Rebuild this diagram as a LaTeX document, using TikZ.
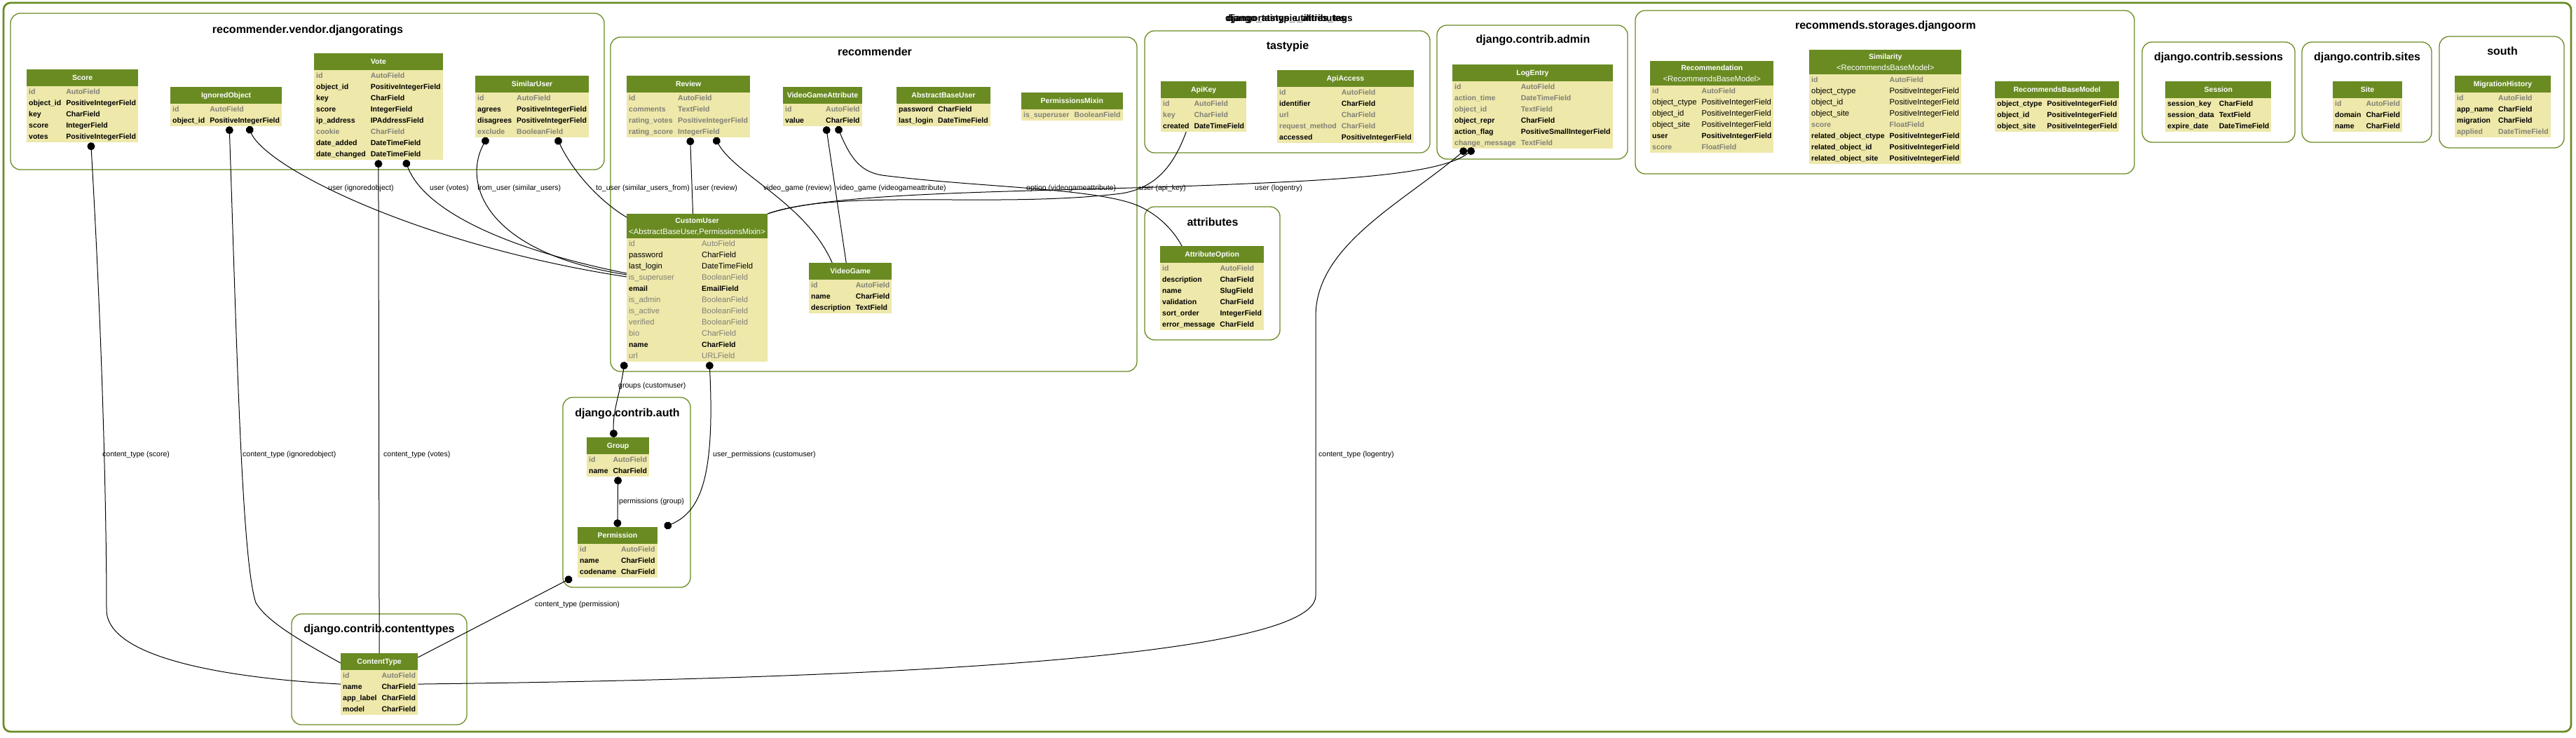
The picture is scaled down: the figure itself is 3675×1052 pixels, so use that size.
\documentclass[tikz,border=0pt]{standalone}
\usepackage{fontspec}
\setmainfont{Liberation Sans}
\usepackage{array}
\usepackage{tikz}
\usetikzlibrary{arrows.meta, fit, shapes.multipart}
\definecolor{cHead}{HTML}{698B22}
\definecolor{cBody}{HTML}{EEE8AA}
\definecolor{cFrame}{HTML}{698B22}
\definecolor{cMuted}{RGB}{128,128,118}
\newcommand{\fieldreg}{\mdseries\fontsize{11.3}{16}\selectfont}
\newcommand{\hd}[1]{\textcolor{white}{\rule[-7.5pt]{0pt}{23pt}\hspace{4pt}#1\hspace{4pt}}}
\newcommand{\hdtwo}[2]{\textcolor{white}{\begin{tabular}{@{\hspace{3pt}}c@{\hspace{3pt}}}\rule{0pt}{13pt}#1\\{\fieldreg #2}\rule[-5pt]{0pt}{0pt}\end{tabular}}}
\newcommand{\rowbold}[2]{#1 & #2\\}
\newcommand{\rowmuted}[2]{\textcolor{cMuted}{#1} & \textcolor{cMuted}{#2}\\}
\newcommand{\rowplain}[2]{{\fieldreg #1} & {\fieldreg #2}\\}
\newcommand{\rowplainmuted}[2]{{\fieldreg\color{cMuted}#1} & {\fieldreg\color{cMuted}#2}\\}
\newenvironment{fieldlist}{\begin{tabular}{@{\hspace{3pt}}l@{\hspace{7pt}}l@{\hspace{3pt}}}}{\end{tabular}}
\newenvironment{widefieldlist}[1]{\begin{tabular}{@{\hspace{3pt}}w{l}{#1}@{}l@{\hspace{3pt}}}}{\end{tabular}}
\tikzset{
    model/.style={
        rectangle split, rectangle split parts=2,
        rectangle split part fill={cHead,cBody},
        rectangle split part align={center,left},
        inner xsep=0pt, inner ysep=0pt, anchor=north west,
        font=\fontsize{10.5}{16}\selectfont\bfseries,
    },
    cluster/.style={
        draw=cFrame, line width=1.3pt, rounded corners=14pt, inner sep=0pt
    },
    frame/.style={
        draw=cFrame, line width=2.7pt, rounded corners=10pt, inner sep=0pt
    },
    grouptitle/.style={font=\fontsize{16}{18}\selectfont\bfseries},
    edgelab/.style={font=\fontsize{10.5}{12}\selectfont, inner sep=1pt, anchor=west},
    fklink/.style={{Circle[length=11pt]}-, line width=1pt},
    mmlink/.style={{Circle[length=11pt]}-{Circle[length=11pt]}, line width=1pt},
    oolink/.style={line width=1pt},
}

\begin{document}
\begin{tikzpicture}[x=1pt, y=-1pt]
\useasboundingbox (0,0) rectangle (3675,1052);

% ============================================================
%  Frames: whole project and one cluster per app
% ============================================================
\node[frame, fit={(5,4) (3668,1044)}] (project) {};
% two app names printed on top of each other in the source image
\node[font=\fontsize{13.5}{15}\selectfont\bfseries] (projtitle) at (1834,27) {django\_tastypie\_attributes};
\node[font=\fontsize{13.5}{15}\selectfont\bfseries] (projtitleb) at (1840,27) {djangoratings\_utilities\_tags};

\node[cluster, fit={(15,19) (862,242)}] (ratingsgrp) {};
\node[cluster, fit={(871,53) (1622,530)}] (recgrp) {};
\node[cluster, fit={(1633,44) (2040,218)}] (tastygrp) {};
\node[cluster, fit={(2050,36) (2322,227)}] (admingrp) {};
\node[cluster, fit={(2333,15) (3045,248)}] (storagegrp) {};
\node[cluster, fit={(3056,60) (3274,203)}] (sessiongrp) {};
\node[cluster, fit={(3284,60) (3469,203)}] (sitegrp) {};
\node[cluster, fit={(3480,52) (3658,211)}] (southgrp) {};
\node[cluster, fit={(1633,295) (1826,485)}] (attrgrp) {};
\node[cluster, fit={(803,567) (985,838)}] (authgrp) {};
\node[cluster, fit={(416,876) (666,1034)}] (ctgrp) {};

\node[grouptitle] (ratingstitle) at (439,43) {recommender.vendor.djangoratings};
\node[grouptitle] (rectitle) at (1248,74) {recommender};
\node[grouptitle] (tastytitle) at (1837,66) {tastypie};
\node[grouptitle] (admintitle) at (2187,57) {django.contrib.admin};
\node[grouptitle] (storagetitle) at (2690,37) {recommends.storages.djangoorm};
\node[grouptitle] (sessiontitle) at (3165,82) {django.contrib.sessions};
\node[grouptitle] (sitetitle) at (3377,82) {django.contrib.sites};
\node[grouptitle] (southtitle) at (3570,73) {south};
\node[grouptitle] (attrtitle) at (1730,317) {attributes};
\node[grouptitle] (authtitle) at (895,590) {django.contrib.auth};
\node[grouptitle] (cttitle) at (541,898) {django.contrib.contenttypes};

% ============================================================
%  Models
% ============================================================
% djangoratings
\node[model] (score) at (38,99) {\hd{Score}\nodepart{two}\begin{fieldlist}
    \rowmuted{id}{AutoField}
    \rowbold{object\_id}{PositiveIntegerField}
    \rowbold{key}{CharField}
    \rowbold{score}{IntegerField}
    \rowbold{votes}{PositiveIntegerField}
\end{fieldlist}};
\node[model] (ignored) at (243,124) {\hd{IgnoredObject}\nodepart{two}\begin{fieldlist}
    \rowmuted{id}{AutoField}
    \rowbold{object\_id}{PositiveIntegerField}
\end{fieldlist}};
\node[model] (vote) at (448,76) {\hd{Vote}\nodepart{two}\begin{fieldlist}
    \rowmuted{id}{AutoField}
    \rowbold{object\_id}{PositiveIntegerField}
    \rowbold{key}{CharField}
    \rowbold{score}{IntegerField}
    \rowbold{ip\_address}{IPAddressField}
    \rowmuted{cookie}{CharField}
    \rowbold{date\_added}{DateTimeField}
    \rowbold{date\_changed}{DateTimeField}
\end{fieldlist}};
\node[model] (similar) at (678,108) {\hd{SimilarUser}\nodepart{two}\begin{fieldlist}
    \rowmuted{id}{AutoField}
    \rowbold{agrees}{PositiveIntegerField}
    \rowbold{disagrees}{PositiveIntegerField}
    \rowmuted{exclude}{BooleanField}
\end{fieldlist}};

% recommender
\node[model] (review) at (894,108) {\hd{Review}\nodepart{two}\begin{fieldlist}
    \rowmuted{id}{AutoField}
    \rowmuted{comments}{TextField}
    \rowmuted{rating\_votes}{PositiveIntegerField}
    \rowmuted{rating\_score}{IntegerField}
\end{fieldlist}};
\node[model] (vgattr) at (1117,124) {\hd{VideoGameAttribute}\nodepart{two}\begin{widefieldlist}{58pt}
    \rowmuted{id}{AutoField}
    \rowbold{value}{CharField}
\end{widefieldlist}};
\node[model] (absuser) at (1279,124) {\hd{AbstractBaseUser}\nodepart{two}\begin{fieldlist}
    \rowbold{password}{CharField}
    \rowbold{last\_login}{DateTimeField}
\end{fieldlist}};
\node[model] (permmixin) at (1457,132) {\hd{PermissionsMixin}\nodepart{two}\begin{fieldlist}
    \rowmuted{is\_superuser}{BooleanField}
\end{fieldlist}};
\node[model] (customuser) at (894,305) {\hdtwo{CustomUser}{<AbstractBaseUser,PermissionsMixin>}\nodepart{two}\begin{widefieldlist}{104pt}
    \rowplainmuted{id}{AutoField}
    \rowplain{password}{CharField}
    \rowplain{last\_login}{DateTimeField}
    \rowplainmuted{is\_superuser}{BooleanField}
    \rowbold{email}{EmailField}
    \rowplainmuted{is\_admin}{BooleanField}
    \rowplainmuted{is\_active}{BooleanField}
    \rowplainmuted{verified}{BooleanField}
    \rowplainmuted{bio}{CharField}
    \rowbold{name}{CharField}
    \rowplainmuted{url}{URLField}
\end{widefieldlist}};
\node[model] (videogame) at (1154,375) {\hd{VideoGame}\nodepart{two}\begin{fieldlist}
    \rowmuted{id}{AutoField}
    \rowbold{name}{CharField}
    \rowbold{description}{TextField}
\end{fieldlist}};

% tastypie
\node[model] (apikey) at (1656,116) {\hd{ApiKey}\nodepart{two}\begin{fieldlist}
    \rowmuted{id}{AutoField}
    \rowmuted{key}{CharField}
    \rowbold{created}{DateTimeField}
\end{fieldlist}};
\node[model] (apiaccess) at (1822,100) {\hd{ApiAccess}\nodepart{two}\begin{fieldlist}
    \rowmuted{id}{AutoField}
    \rowbold{identifier}{CharField}
    \rowmuted{url}{CharField}
    \rowmuted{request\_method}{CharField}
    \rowbold{accessed}{PositiveIntegerField}
\end{fieldlist}};

% admin
\node[model] (logentry) at (2072,92) {\hd{LogEntry}\nodepart{two}\begin{fieldlist}
    \rowmuted{id}{AutoField}
    \rowmuted{action\_time}{DateTimeField}
    \rowmuted{object\_id}{TextField}
    \rowbold{object\_repr}{CharField}
    \rowbold{action\_flag}{PositiveSmallIntegerField}
    \rowmuted{change\_message}{TextField}
\end{fieldlist}};

% recommends storage
\node[model] (recommendation) at (2354,87) {\hdtwo{Recommendation}{<RecommendsBaseModel>}\nodepart{two}\begin{fieldlist}
    \rowmuted{id}{AutoField}
    \rowplain{object\_ctype}{PositiveIntegerField}
    \rowplain{object\_id}{PositiveIntegerField}
    \rowplain{object\_site}{PositiveIntegerField}
    \rowbold{user}{PositiveIntegerField}
    \rowmuted{score}{FloatField}
\end{fieldlist}};
\node[model] (similarity) at (2581,71) {\hdtwo{Similarity}{<RecommendsBaseModel>}\nodepart{two}\begin{fieldlist}
    \rowmuted{id}{AutoField}
    \rowplain{object\_ctype}{PositiveIntegerField}
    \rowplain{object\_id}{PositiveIntegerField}
    \rowplain{object\_site}{PositiveIntegerField}
    \rowmuted{score}{FloatField}
    \rowbold{related\_object\_ctype}{PositiveIntegerField}
    \rowbold{related\_object\_id}{PositiveIntegerField}
    \rowbold{related\_object\_site}{PositiveIntegerField}
\end{fieldlist}};
\node[model] (recbase) at (2846,116) {\hd{RecommendsBaseModel}\nodepart{two}\begin{fieldlist}
    \rowbold{object\_ctype}{PositiveIntegerField}
    \rowbold{object\_id}{PositiveIntegerField}
    \rowbold{object\_site}{PositiveIntegerField}
\end{fieldlist}};

% sessions, sites, south
\node[model] (session) at (3089,116) {\hd{Session}\nodepart{two}\begin{fieldlist}
    \rowbold{session\_key}{CharField}
    \rowbold{session\_data}{TextField}
    \rowbold{expire\_date}{DateTimeField}
\end{fieldlist}};
\node[model] (site) at (3328,116) {\hd{Site}\nodepart{two}\begin{fieldlist}
    \rowmuted{id}{AutoField}
    \rowbold{domain}{CharField}
    \rowbold{name}{CharField}
\end{fieldlist}};
\node[model] (migration) at (3502,108) {\hd{MigrationHistory}\nodepart{two}\begin{fieldlist}
    \rowmuted{id}{AutoField}
    \rowbold{app\_name}{CharField}
    \rowbold{migration}{CharField}
    \rowmuted{applied}{DateTimeField}
\end{fieldlist}};

% attributes
\node[model] (attroption) at (1655,351) {\hd{AttributeOption}\nodepart{two}\begin{fieldlist}
    \rowmuted{id}{AutoField}
    \rowbold{description}{CharField}
    \rowbold{name}{SlugField}
    \rowbold{validation}{CharField}
    \rowbold{sort\_order}{IntegerField}
    \rowbold{error\_message}{CharField}
\end{fieldlist}};

% auth
\node[model] (group) at (837,624) {\hd{Group}\nodepart{two}\begin{fieldlist}
    \rowmuted{id}{AutoField}
    \rowbold{name}{CharField}
\end{fieldlist}};
\node[model] (permission) at (824,752) {\hd{Permission}\nodepart{two}\begin{fieldlist}
    \rowmuted{id}{AutoField}
    \rowbold{name}{CharField}
    \rowbold{codename}{CharField}
\end{fieldlist}};

% contenttypes
\node[model] (contenttype) at (486,932) {\hd{ContentType}\nodepart{two}\begin{fieldlist}
    \rowmuted{id}{AutoField}
    \rowbold{name}{CharField}
    \rowbold{app\_label}{CharField}
    \rowbold{model}{CharField}
\end{fieldlist}};

% ============================================================
%  Relations (dot = foreign key side)
% ============================================================
% content types
\draw[fklink] ([xshift=12pt]score.south) .. controls (148,520) and (152,760) .. (152,870)
    .. controls (152,940) and (330,968) .. (contenttype.west);
\draw[fklink] ([xshift=4.5pt]ignored.south) .. controls (338,500) and (345,800) .. (365,860)
    .. controls (380,885) and (420,910) .. ([yshift=-14pt]contenttype.north west);
\draw[fklink] (vote.south) -- (contenttype.north);
\draw[fklink] ([xshift=-94.5pt]logentry.south) .. controls (2000,290) and (1878,350) .. (1877,450)
    -- (1877,850) .. controls (1877,960) and (900,972) .. (contenttype.east);
\draw[fklink] ([xshift=-8pt]permission.south west) -- ([yshift=-6pt]contenttype.north east);

% users
\draw[fklink] ([xshift=31.5pt]ignored.south) .. controls (380,240) and (600,350) .. ([yshift=-90pt]customuser.north west);
\draw[fklink] ([xshift=38pt]vote.south) .. controls (605,300) and (720,355) .. ([yshift=-85pt]customuser.north west);
\draw[fklink] ([xshift=-64pt]similar.south) .. controls (660,260) and (690,360) .. ([yshift=-87pt]customuser.north west);
\draw[fklink] ([xshift=35pt]similar.south) .. controls (820,250) and (860,290) .. ([yshift=-5pt]customuser.north west);
\draw[fklink] ([xshift=2.5pt]review.south) -- ([xshift=-6pt]customuser.north);
\draw[oolink] ([xshift=-25pt]apikey.south) .. controls (1675,235) and (1650,268) .. (1600,276)
    .. controls (1420,298) and (1200,268) .. (customuser.north east);
\draw[fklink] ([xshift=-83.5pt]logentry.south) .. controls (2060,245) and (1950,255) .. (1780,262)
    .. controls (1500,275) and (1200,270) .. (customuser.north east);

% video games
\draw[fklink] ([xshift=37.5pt]review.south) .. controls (1050,250) and (1150,290) .. ([xshift=-26pt]videogame.north);
\draw[fklink] ([xshift=5pt]vgattr.south) -- ([xshift=-6pt]videogame.north);
\draw[fklink] ([xshift=21pt]vgattr.south) .. controls (1215,230) and (1230,245) .. (1258,250)
    .. controls (1400,268) and (1570,268) .. (1627,295)
    .. controls (1650,306) and (1672,325) .. ([xshift=-43pt]attroption.north);

% auth
\draw[mmlink] ([xshift=-3pt]customuser.south west) .. controls (885,560) and (874,585) .. ([xshift=-6pt]group.north);
\draw[mmlink] ([xshift=17.5pt]customuser.south) .. controls (1020,680) and (1000,730) .. ([xshift=10pt]permission.north east);
\draw[mmlink] (group.south) -- (permission.north);

% ============================================================
%  Relation labels
% ============================================================
\node[edgelab] (lscore) at (145,649) {content\_type (score)};
\node[edgelab] (lignored) at (345,649) {content\_type (ignoredobject)};
\node[edgelab] (lvotes) at (546,649) {content\_type (votes)};
\node[edgelab] (luserignored) at (467,269) {user (ignoredobject)};
\node[edgelab] (luservotes) at (612,269) {user (votes)};
\node[edgelab] (lfromuser) at (680,269) {from\_user (similar\_users)};
\node[edgelab] (ltouser) at (849,269) {to\_user (similar\_users\_from)};
\node[edgelab] (luserreview) at (990,269) {user (review)};
\node[edgelab] (lvgreview) at (1088,269) {video\_game (review)};
\node[edgelab] (lvgattr) at (1192,269) {video\_game (videogameattribute)};
\node[edgelab] (loption) at (1463,269) {option (videogameattribute)};
\node[edgelab] (lapikey) at (1624,269) {user (api\_key)};
\node[edgelab] (llogentry) at (1789,269) {user (logentry)};
\node[edgelab] (lctlog) at (1880,649) {content\_type (logentry)};
\node[edgelab] (lgroups) at (881,551) {groups (customuser)};
\node[edgelab] (luperm) at (1016,649) {user\_permissions (customuser)};
\node[edgelab] (lperms) at (882,716) {permissions (group)};
\node[edgelab] (lctperm) at (762,863) {content\_type (permission)};

\end{tikzpicture}
\end{document}
